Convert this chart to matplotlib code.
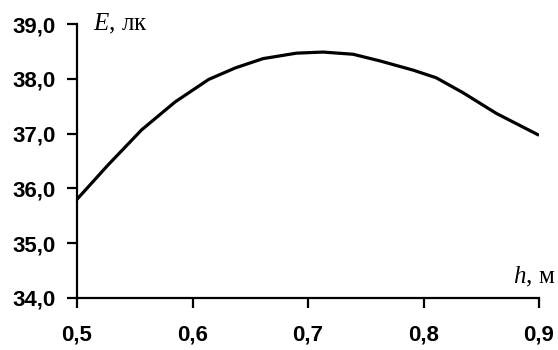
import numpy as np
import matplotlib.pyplot as plt

plt.rcParams["mathtext.fontset"] = "custom"
plt.rcParams["mathtext.it"] = "Liberation Serif:italic"
plt.rcParams["mathtext.rm"] = "Liberation Serif"

# values
h = [0.5, 0.527, 0.556, 0.585, 0.614, 0.637, 0.661, 0.69, 0.713,
     0.739, 0.762, 0.791, 0.811, 0.834, 0.863, 0.9]
E = [35.8, 36.43, 37.07, 37.58, 37.99, 38.2, 38.37, 38.47, 38.49,
     38.45, 38.33, 38.16, 38.02, 37.75, 37.37, 36.97]

xticks = [0.5, 0.6, 0.7, 0.8, 0.9]
yticks = [34, 35, 36, 37, 38, 39]

fig = plt.figure(figsize=(5.58, 3.5), dpi=100)
ax = fig.add_axes([0.138, 0.149, 0.828, 0.782])

ax.plot(h, E, color="black", linewidth=2.3, solid_capstyle="butt",
        solid_joinstyle="round")

ax.set_xlim(0.5, 0.9)
ax.set_ylim(34, 39)
ax.set_xticks(xticks)
ax.set_yticks(yticks)
ax.set_xticklabels([f"{v:.1f}".replace(".", ",") for v in xticks])
ax.set_yticklabels([f"{v:.1f}".replace(".", ",") for v in yticks])

for s in ["top", "right"]:
    ax.spines[s].set_visible(False)
for s in ["left", "bottom"]:
    ax.spines[s].set_linewidth(1.6)

ax.tick_params(direction="out", length=7, width=1.6, pad=8, labelsize=16)
ax.tick_params(axis="x", pad=12)
for lab in ax.get_xticklabels() + ax.get_yticklabels():
    lab.set_fontfamily("Liberation Sans")
    lab.set_fontweight("bold")

# axis captions
ax.text(0.514, 39.0, r"$E$, лк", fontsize=18, family="Liberation Serif",
        va="center", ha="left", clip_on=False)
ax.text(0.914, 34.38, r"$h$, м", fontsize=18, family="Liberation Serif",
        va="center", ha="right", clip_on=False)

fig.savefig("out.png", dpi=100)
